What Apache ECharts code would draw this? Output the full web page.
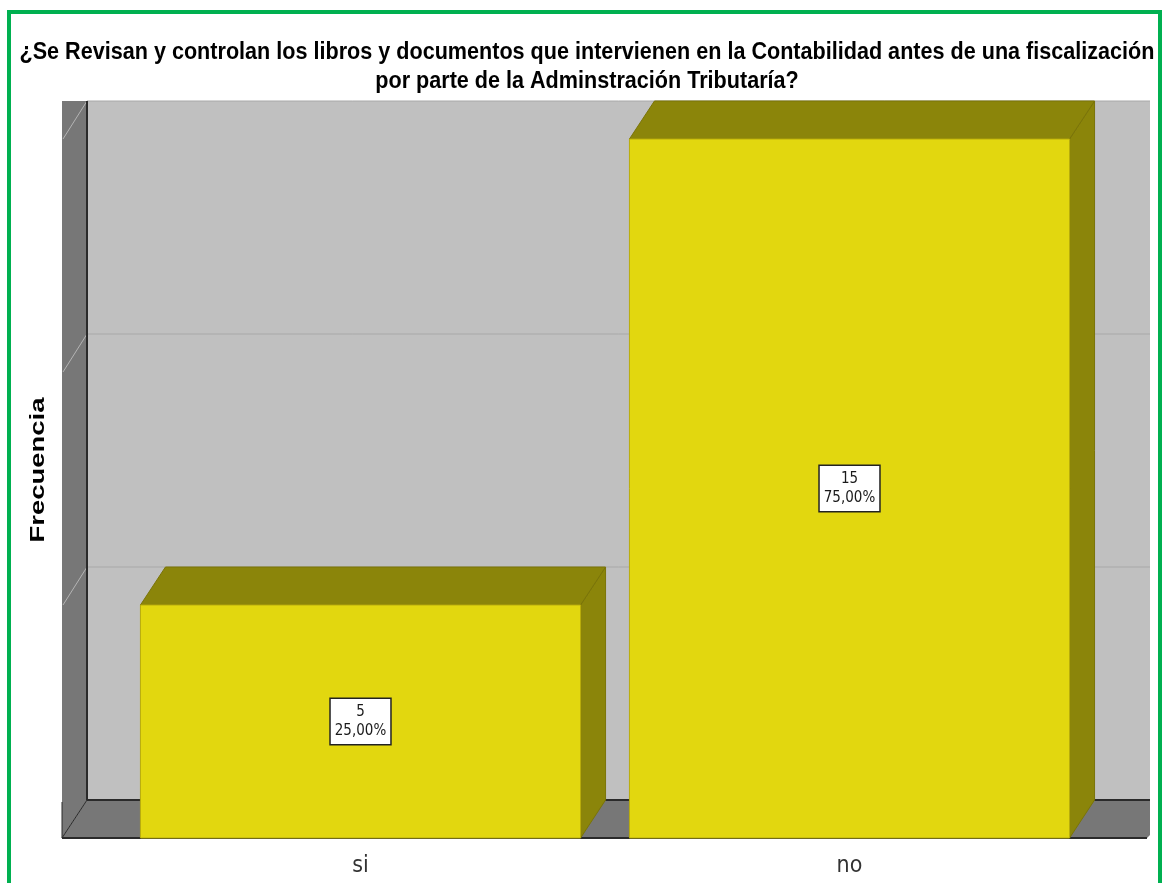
<!DOCTYPE html>
<html><head><meta charset="utf-8">
<script src="https://cdn.jsdelivr.net/npm/echarts@6/dist/echarts.min.js"></script>
<style>html,body{margin:0;padding:0;background:#fff}#c{width:1168px;height:883px}</style>
</head><body><div id="c"></div>
<script>
const titleLines = ['¿Se Revisan y controlan los libros y documentos que intervienen en la Contabilidad antes de una fiscalización', 'por parte de la Adminstración Tributaría?'];
const categories = ['si', 'no'];
const frequencies = [5, 15];
const percents = ['25,00%', '75,00%'];
const yTicks = [5, 10, 15];
const yAxisTitle = 'Frecuencia';

const DX = 25, DY = -38;
const NARROW = '"DejaVu Sans Condensed", "Liberation Sans", Arial, sans-serif';
const TITLE_FONT = 'bold 23px "Liberation Sans", Arial, sans-serif';
const YNAME_FONT = 'bold 21px "Liberation Sans", Arial, sans-serif';

const mctx = document.createElement('canvas').getContext('2d');
function textWidth(t, font) { mctx.font = font; return mctx.measureText(t).width; }
const titleScale = 1135 / textWidth(titleLines[0], TITLE_FONT);
const ynameScale = 145 / textWidth(yAxisTitle, YNAME_FONT);

const chart = echarts.init(document.getElementById('c'), null, {renderer: 'canvas'});

function wallsRender(params, api) {
  const cs = params.coordSys;
  const y0 = api.coord([0, 0])[1];
  const yTop = api.coord([0, 15])[1];
  const fx0 = cs.x - 54, fx1 = cs.x + cs.width + 52;
  const bx0 = fx0 + DX, bx1 = fx1 + 4;
  const children = [];
  children.push({type: 'rect', shape: {x: bx0, y: yTop + DY, width: bx1 - bx0, height: y0 - yTop}, style: {fill: '#c0c0c0'}});
  children.push({type: 'polygon', shape: {points: [[fx0, yTop + DY], [bx0, yTop + DY], [bx0, y0 + DY], [fx0, y0]]}, style: {fill: '#777777'}});
  children.push({type: 'polygon', shape: {points: [[fx0, y0], [bx0, y0 + DY], [bx1, y0 + DY], [bx1, y0 - 3], [bx1 - 3, y0]]}, style: {fill: '#777777'}});
  yTicks.forEach(v => {
    const yv = api.coord([0, v])[1];
    children.push({type: 'line', shape: {x1: bx0, y1: yv + DY, x2: bx1, y2: yv + DY}, style: {stroke: '#a8a8a8', lineWidth: 1}});
    children.push({type: 'line', shape: {x1: fx0 + 1, y1: yv, x2: bx0, y2: yv + DY}, style: {stroke: '#b4b4b4', lineWidth: 1}});
  });
  children.push({type: 'line', shape: {x1: bx0, y1: yTop + DY, x2: bx0, y2: y0 + DY}, style: {stroke: '#2a2a2a', lineWidth: 2}});
  children.push({type: 'line', shape: {x1: bx0, y1: y0 + DY, x2: bx1, y2: y0 + DY}, style: {stroke: '#2a2a2a', lineWidth: 2}});
  children.push({type: 'line', shape: {x1: fx0, y1: y0 + DY + 2, x2: fx0, y2: y0}, style: {stroke: '#2a2a2a', lineWidth: 1}});
  children.push({type: 'line', shape: {x1: fx0, y1: y0, x2: bx1 - 3, y2: y0}, style: {stroke: '#2a2a2a', lineWidth: 2}});
  children.push({type: 'line', shape: {x1: fx0, y1: y0, x2: bx0, y2: y0 + DY}, style: {stroke: '#2a2a2a', lineWidth: 1}});
  return {type: 'group', children};
}

function barsRender(params, api) {
  const i = api.value(0);
  const v = api.value(1);
  const top = api.coord([i, v]);
  const base = api.coord([i, 0]);
  const bw = api.size([1, 0])[0] * 0.9;
  const x0 = top[0] - bw / 2, x1 = top[0] + bw / 2;
  const yt = top[1], yb = base[1];
  const edge = '#7a7408';
  return {type: 'group', children: [
    {type: 'polygon', shape: {points: [[x1, yt], [x1 + DX, yt + DY], [x1 + DX, yb + DY], [x1, yb]]}, style: {fill: '#8b850a', stroke: edge, lineWidth: 1}},
    {type: 'polygon', shape: {points: [[x0, yt], [x0 + DX, yt + DY], [x1 + DX, yt + DY], [x1, yt]]}, style: {fill: '#8b850a', stroke: edge, lineWidth: 1}},
    {type: 'rect', shape: {x: x0, y: yt, width: bw, height: yb - yt}, style: {fill: '#e2d70f', stroke: '#b8ad0c', lineWidth: 1}},
    {type: 'text', x: top[0], y: (yt + yb) / 2, style: {
      text: frequencies[i] + '\n' + percents[i], align: 'center', verticalAlign: 'middle',
      font: '15px ' + NARROW, lineHeight: 19, fill: '#1a1a1a',
      backgroundColor: '#ffffff', borderColor: '#222222', borderWidth: 1.5, padding: [4, 4, 3, 4]
    }}
  ]};
}

chart.setOption({
  animation: false,
  backgroundColor: '#ffffff',
  grid: {left: 116, right: 74, top: 139, bottom: 45},
  xAxis: {
    type: 'category', data: categories,
    axisLine: {show: false}, axisTick: {show: false}, splitLine: {show: false},
    axisLabel: {fontFamily: NARROW, fontSize: 23, color: '#333', margin: 17}
  },
  yAxis: {
    type: 'value', min: 0, max: 15, interval: 5,
    axisLine: {show: false}, axisTick: {show: false}, axisLabel: {show: false}, splitLine: {show: false}
  },
  graphic: [
    {type: 'text', z: 50, x: 587, y: 53, scaleX: titleScale, style: {text: titleLines[0], align: 'center', verticalAlign: 'middle', font: TITLE_FONT, fill: '#000'}},
    {type: 'text', z: 50, x: 587, y: 82, scaleX: titleScale, style: {text: titleLines[1], align: 'center', verticalAlign: 'middle', font: TITLE_FONT, fill: '#000'}},
    {type: 'text', x: 38, y: 470, rotation: Math.PI / 2, scaleX: ynameScale, style: {text: yAxisTitle, align: 'center', verticalAlign: 'middle', font: YNAME_FONT, fill: '#000'}},
    {type: 'rect', z: 100, shape: {x: 9, y: 12, width: 1151, height: 900}, style: {fill: 'none', stroke: '#00b050', lineWidth: 4}}
  ],
  series: [
    {type: 'custom', renderItem: wallsRender, data: [[0, 0]], silent: true, z: 1},
    {type: 'custom', renderItem: barsRender, data: frequencies.map((f, i) => [i, f]), z: 2}
  ]
});
</script></body></html>
